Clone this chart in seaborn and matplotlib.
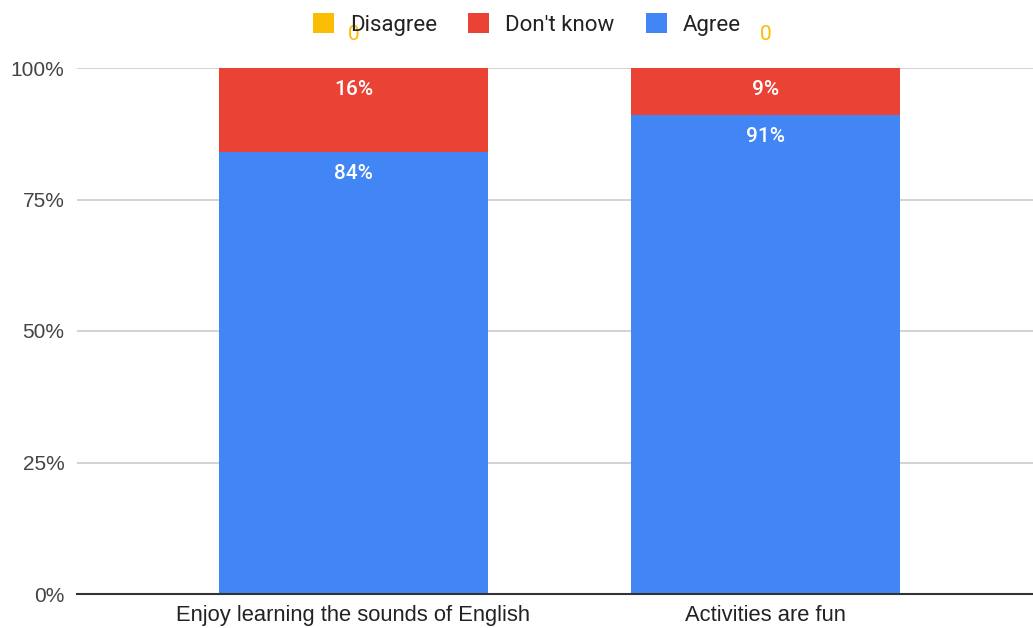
import matplotlib
matplotlib.use("Agg")
import matplotlib.pyplot as plt
from matplotlib.patches import Patch
import numpy as np
import pandas as pd
import seaborn as sns

categories = ["Enjoy learning the sounds of English", "Activities are fun"]
agree = [84, 91]
dont_know = [16, 9]
disagree = [0, 0]

series_names = ["Disagree", "Don't know", "Agree"]
colors = {"Disagree": "#FBBC04", "Don't know": "#EA4335", "Agree": "#4285F4"}

sns.set_theme(style="white")
plt.rcParams["font.family"] = ["Liberation Sans", "DejaVu Sans"]

fig = plt.figure(figsize=(10.33, 6.28), dpi=100)
ax = fig.add_axes([77 / 1033, 1 - 594 / 628, 1 - 77 / 1033, (594 - 68) / 628])

# stacked: Agree at the bottom, Don't know above, Disagree on top
agree_arr = np.array(agree)
dk_top = agree_arr + np.array(dont_know)
dis_top = dk_top + np.array(disagree)

layers = [
    ("Disagree", dis_top),
    ("Don't know", dk_top),
    ("Agree", agree_arr),
]

for name, top in layers:
    df = pd.DataFrame({"cat": categories, "val": top})
    sns.barplot(data=df, x="cat", y="val", color=colors[name], width=0.653,
                saturation=1, ax=ax, zorder=3, linewidth=0)

label_kw = dict(ha="center", va="center", fontsize=15, fontfamily="Roboto",
                fontweight="medium", zorder=5)
for i in range(len(categories)):
    ax.text(i, agree_arr[i] - 4.0, f"{agree[i]}%", color="white", **label_kw)
    ax.text(i, dk_top[i] - 4.0, f"{dont_know[i]}%", color="white", **label_kw)
    ax.text(i, dis_top[i] + 6.3, f"{disagree[i]}", color="#FBBC04", clip_on=False,
            **{**label_kw, "fontweight": "normal"})

ax.set_ylim(0, 100)
ax.set_xlim(-0.671, 1.649)
ax.set_yticks([0, 25, 50, 75, 100])
ax.set_yticklabels(["0%", "25%", "50%", "75%", "100%"])
ax.yaxis.grid(True, color="#cccccc", linewidth=1.2, zorder=0)
ax.set_axisbelow(True)
ax.set_xlabel("")
ax.set_ylabel("")
for side in ["top", "right", "left"]:
    ax.spines[side].set_visible(False)
ax.spines["bottom"].set_color("#333333")
ax.spines["bottom"].set_linewidth(1.5)
ax.spines["bottom"].set_zorder(6)
ax.tick_params(axis="y", length=0, labelsize=15, colors="#444444", pad=9)
ax.tick_params(axis="x", length=0, labelsize=15.8, colors="#222222", pad=8)

handles = [Patch(facecolor=colors[n], edgecolor="none", label=n) for n in series_names]
fig.legend(handles=handles, loc="upper center", bbox_to_anchor=(0.51, 1.0), ncol=3,
           frameon=False, prop={"family": "Roboto", "size": 16},
           handlelength=0.95, handleheight=0.95, handletextpad=0.72, columnspacing=1.4,
           labelcolor="#222222", borderaxespad=0.2)

fig.savefig("out.png", dpi=100)
